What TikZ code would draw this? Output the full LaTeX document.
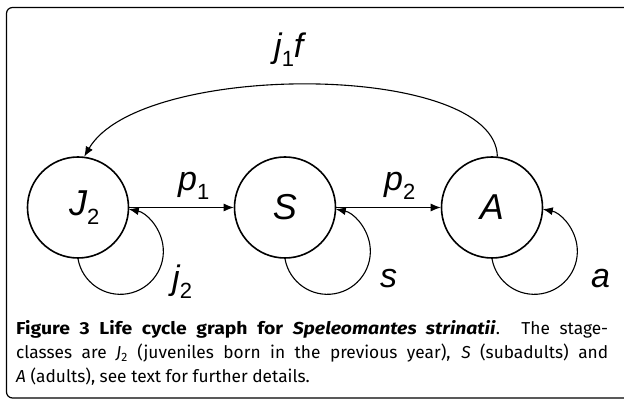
\documentclass[tikz,border=0pt]{standalone}
\usepackage{fontspec}
\setmainfont{Fira Sans}[BoldFeatures={FakeStretch=1.12},BoldItalicFeatures={FakeStretch=1.12}]
\newfontfamily\lblfont{Liberation Sans}
\usetikzlibrary{arrows.meta}
\newcommand\sbx[1]{\raisebox{-0.25em}{\fontsize{22}{22}\selectfont\upshape #1}}
\begin{document}
\begin{tikzpicture}[x=1pt,y=-1pt,
  stage/.style={circle, draw, line width=1.6pt, minimum size=101pt, inner sep=0pt,
    font=\lblfont\itshape\fontsize{36}{36}\selectfont},
  lbl/.style={font=\lblfont\itshape\fontsize{34}{34}\selectfont, inner sep=0pt, anchor=base west},
  ar/.style={line width=1.1pt, -{Latex[length=10pt,width=8pt]}},
  capline/.style={inner sep=0pt, anchor=base west, font=\fontsize{17.3}{23.5}\selectfont}
]
\useasboundingbox (0,0) rectangle (624,403);
\draw[line width=1.2pt, rounded corners=6pt] (6.5,7.5) rectangle (632,398);

\node[stage] (J) at (78,207.5) {J\rlap{\sbx{2}}};
\node[stage] (S) at (285,207.5) {S};
\node[stage] (A) at (492,207.5) {A};

\draw[ar] (J.east) -- (S.west);
\draw[ar] (S.east) -- (A.west);
\draw[ar] (J.south) arc[start angle=170, end angle=-78.7, radius=43];
\draw[ar] (S.south) arc[start angle=170, end angle=-78.7, radius=43];
\draw[ar] (A.south) arc[start angle=170, end angle=-78.7, radius=43];
\draw[ar] (A.84) .. controls +(-2,-95) and +(56,-96) .. (J.83);

\node[lbl] (lp1) at (178,191) {p\sbx{1}};
\node[lbl] (lp2) at (384,191) {p\sbx{2}};
\node[lbl] (lj1f) at (274,58) {j\sbx{1}f};
\node[lbl] (lj2) at (172,290) {j\sbx{2}};
\node[lbl] (ls) at (380,288) {s};
\node[lbl] (la) at (591,288) {a};

\node[capline] (cap1) at (16,335) {\makebox[592pt][s]{\textbf{Figure 3 Life cycle graph for \textit{Speleomantes strinatii}}. The stage-}};
\node[capline] (cap2) at (16,358.5) {\makebox[592pt][s]{classes are \textit{J}\textsubscript{2} (juveniles born in the previous year), \textit{S} (subadults) and}};
\node[capline] (cap3) at (16,382) {\textit{A} (adults), see text for further details.};
\end{tikzpicture}
\end{document}
